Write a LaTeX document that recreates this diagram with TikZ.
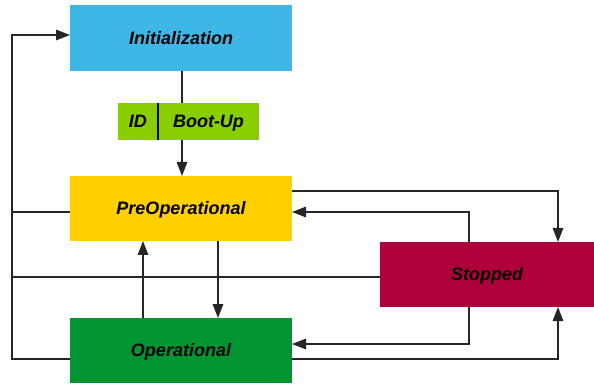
\documentclass[tikz,border=0pt]{standalone}
\usepackage{fontspec}
\setmainfont{Liberation Sans}
\usetikzlibrary{arrows.meta}
\definecolor{cinit}{RGB}{62,182,230}
\definecolor{cid}{RGB}{136,206,0}
\definecolor{cpre}{RGB}{255,208,0}
\definecolor{cstop}{RGB}{176,0,60}
\definecolor{cop}{RGB}{0,148,50}
\tikzset{
  lbl/.style={font=\fontsize{18}{22}\selectfont\bfseries\itshape, text height=12.9pt, text depth=0pt},
  state/.style={lbl, inner sep=0pt, outer sep=0pt, minimum width=222pt, minimum height=65pt},
  idpart/.style={lbl, inner sep=0pt, outer sep=0pt, fill=cid, minimum height=37pt},
  conn/.style={line width=1.5pt, draw=black!85},
  arr/.style={conn, -{Triangle[length=14pt,width=10.5pt]}},
}
\begin{document}
\begin{tikzpicture}[x=1pt,y=1pt]
\useasboundingbox (0,0) rectangle (594,383);
\node[state, fill=cinit, minimum height=66pt] (init) at (181,345) {Initialization};
\node[idpart, minimum width=40.5pt] (idL) at (137.75,261.5) {ID};
\node[idpart, minimum width=101pt] (idR) at (208.5,261.5) {Boot-Up};
\node[state, fill=cpre] (pre) at (181,174.5) {PreOperational};
\node[state, fill=cstop, minimum width=214pt] (stop) at (487,108.5) {Stopped};
\node[state, fill=cop] (op) at (181,32.5) {Operational};
\coordinate (lx) at (12,0);
\draw[line width=1.3pt] (idL.north east) -- (idL.south east);
% init to ID box to PreOp
\draw[conn] ([xshift=1]init.south) -- ([xshift=1]init.south |- idR.north);
\draw[arr] ([xshift=1]init.south |- idR.south) -- ([xshift=1]pre.north);
% left return loop
\draw[arr] ([yshift=-8.5]op.west) -| (12,348) -- ([yshift=3]init.west);
\draw[conn] ([yshift=-3.5]pre.west) -- ([yshift=-3.5]pre.west -| lx);
\draw[conn] ([yshift=-2.5]stop.west) -- ([yshift=-2.5]stop.west -| lx);
% PreOp <-> Stopped
\draw[arr] ([yshift=17.5]pre.east) -| ([xshift=71]stop.north);
\draw[arr] ([xshift=-18]stop.north) |- ([yshift=-3.5]pre.east);
% PreOp <-> Operational
\draw[arr] ([xshift=-38]op.north) -- ([xshift=-38]pre.south);
\draw[arr] ([xshift=37]pre.south) -- ([xshift=37]op.north);
% Stopped <-> Operational
\draw[arr] ([xshift=-18]stop.south) |- ([yshift=6.5]op.east);
\draw[arr] ([yshift=-8.5]op.east) -| ([xshift=71]stop.south);
\end{tikzpicture}
\end{document}
